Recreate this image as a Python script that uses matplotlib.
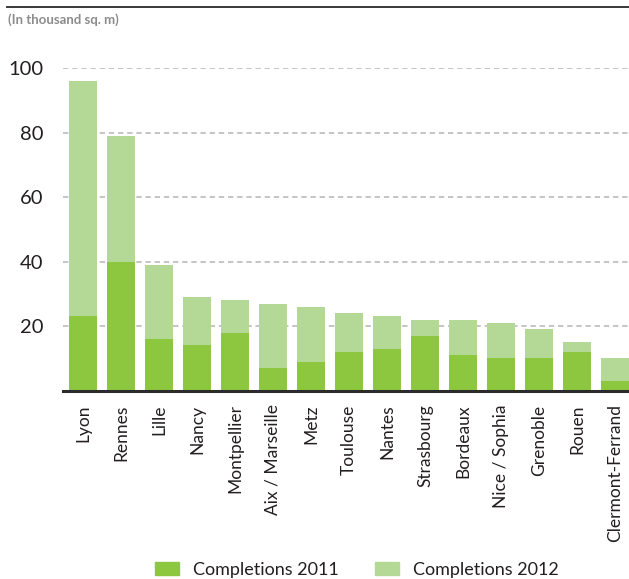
import matplotlib
matplotlib.use("Agg")
import matplotlib.pyplot as plt
from matplotlib.patches import Patch
from matplotlib.lines import Line2D
import numpy as np

# Office completions by city (thousand sq. m)
cities = ["Lyon", "Rennes", "Lille", "Nancy", "Montpellier", "Aix / Marseille",
          "Metz", "Toulouse", "Nantes", "Strasbourg", "Bordeaux",
          "Nice / Sophia", "Grenoble", "Rouen", "Clermont-Ferrand"]
completions_2011 = [23, 40, 16, 14, 18, 7, 9, 12, 13, 17, 11, 10, 10, 12, 3]
completions_2012 = [73, 39, 23, 15, 10, 20, 17, 12, 10, 5, 11, 11, 9, 3, 7]
y_ticks = [20, 40, 60, 80, 100]

C2011 = "#8dc63f"
C2012 = "#b4d997"
TXT = "#231f20"

plt.rcParams["font.family"] = ["Lato", "DejaVu Sans"]

W, H = 629, 579
fig = plt.figure(figsize=(W / 100, H / 100), dpi=100)

ax = fig.add_axes([63 / W, (H - 390.5) / H, 1 - 63 / W, (390.5 - 68.3) / H])
x = np.arange(len(cities))
ax.bar(x, completions_2011, width=0.737, color=C2011, zorder=3)
ax.bar(x, completions_2012, width=0.737, bottom=completions_2011,
       color=C2012, zorder=3)

ax.set_xlim(-0.526, len(cities) - 1 + 0.368)
ax.set_ylim(0, 100)
ax.set_yticks(y_ticks)
ax.set_yticklabels([str(v) for v in y_ticks], fontsize=14.5, color=TXT)
ax.set_xticks(x)
ax.set_xticklabels(cities, rotation=90, fontsize=12.5, color=TXT,
                   va="top", ha="center")
ax.tick_params(axis="both", length=0)
ax.tick_params(axis="y", pad=14)
ax.tick_params(axis="x", pad=10)

for s in ["top", "right", "left"]:
    ax.spines[s].set_visible(False)
ax.spines["bottom"].set_color("#2b2b2b")
ax.spines["bottom"].set_linewidth(2.2)
ax.spines["bottom"].set_zorder(4)

for v in y_ticks:
    ax.axhline(v, color="#b5b5b5", lw=1.1, ls=(0, (3.5, 2.5)), zorder=1)

# header rule and unit note
fig.add_artist(Line2D([7 / W, 1.0], [1 - 7 / H, 1 - 7 / H],
                      transform=fig.transFigure, color="#3a3a3a", lw=1.4))
fig.text(8 / W, 1 - 20 / H, "(In thousand sq. m)", fontsize=9.5,
         fontweight="bold", color="#8c8c8c", va="center", ha="left")

handles = [Patch(color=C2011, label="Completions 2011"),
           Patch(color=C2012, label="Completions 2012")]
fig.legend(handles=handles, loc="center", bbox_to_anchor=(357 / W, 1 - 570 / H),
           ncol=2, frameon=False, fontsize=13, handlelength=1.3,
           handleheight=0.7, handletextpad=0.8, columnspacing=2.0,
           labelcolor=TXT)

fig.savefig("out.png", dpi=100)
